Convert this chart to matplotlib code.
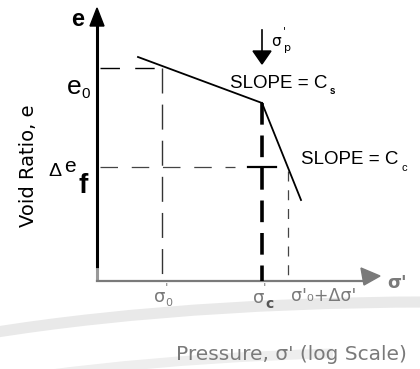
import matplotlib.pyplot as plt
from matplotlib.patches import Arc, Polygon

# e - log(sigma') consolidation sketch, drawn in sketch units (y grows downward)
origin = (97, 281)
axis_top = 8
axis_right = 380

# pressure marks: sigma'_0, sigma'_c, sigma'_0 + d sigma'
sigma_marks = [162, 262, 288]
# void ratio levels: e_0, e_f
e_levels = [68, 167]

# recompression branch (slope C_s) and virgin branch (slope C_c)
recomp_x = [138, 262]
recomp_y = [57, 103]
virgin_x = [262, 301]
virgin_y = [103, 200]

grey = '#7a7a7a'

fig = plt.figure(figsize=(4.2, 3.69), dpi=100)
ax = fig.add_axes([0, 0, 1, 1])
ax.set_xlim(0, 420)
ax.set_ylim(369, 0)
ax.axis('off')

# faint background arcs (y axis is inverted, so the upper half is 180..270)
ax.add_patch(Arc((430, 442), 1400, 280, theta1=180, theta2=270, color='#e9e9e9', lw=8, zorder=0))
ax.add_patch(Arc((430, 492), 1400, 280, theta1=180, theta2=235, color='#eeeeee', lw=7, zorder=0))

# axes
ax.plot([origin[0], origin[0]], [24, 268], color='k', lw=2.2, solid_capstyle='butt')
ax.plot([origin[0], origin[0]], [268, origin[1]], color='#999999', lw=2.2, solid_capstyle='butt')
ax.add_patch(Polygon([[origin[0], axis_top], [90, 26], [104, 26]], closed=True, color='k'))
ax.plot([origin[0], 366], [origin[1], origin[1]], color=grey, lw=1.6)
ax.add_patch(Polygon([[axis_right, 276], [361, 268], [364, 285]], closed=True, color=grey))

# e_0 guide lines
ax.plot([100, sigma_marks[0]], [e_levels[0], e_levels[0]], color='k', lw=1, dashes=(14, 11))
ax.plot([sigma_marks[0], sigma_marks[0]], [e_levels[0], origin[1]], color='#333333', lw=1, dashes=(18, 8))

# e_f guide line and cross
ax.plot([100, 235], [e_levels[1], e_levels[1]], color='#444444', lw=0.9, dashes=(14, 11))
ax.plot([248, 276], [e_levels[1], e_levels[1]], color='k', lw=1.6)

# preconsolidation and final stress verticals
ax.plot([sigma_marks[1], sigma_marks[1]], [recomp_y[1], origin[1]], color='k', lw=2.6, dashes=(6, 3))
ax.plot([sigma_marks[2], sigma_marks[2]], [e_levels[1] + 4, origin[1]], color='#444444', lw=0.9, dashes=(8, 7))

# compression curve
ax.plot(recomp_x, recomp_y, color='k', lw=1.3)
ax.plot(virgin_x, virgin_y, color='k', lw=1.3)

# sigma'_p arrow
ax.plot([sigma_marks[1], sigma_marks[1]], [30, 52], color='k', lw=1.2)
ax.add_patch(Polygon([[sigma_marks[1], 64], [253, 51], [271, 51]], closed=True, color='k'))
ax.text(271, 42, 'σ', fontsize=11, ha='left', va='center')
ax.text(283, 31, "'", fontsize=8, ha='left', va='center')
ax.text(284, 48, 'p', fontsize=8, ha='left', va='center')

# slope labels
ax.text(230, 83, 'SLOPE = C', fontsize=13.5, ha='left', va='center', family='Liberation Sans')
ax.text(330, 91, 's', fontsize=7, ha='left', va='center', family='Liberation Sans', weight='bold')
ax.text(301, 160, 'SLOPE = C', fontsize=13.5, ha='left', va='center', family='Liberation Sans')
ax.text(401, 168, 'c', fontsize=8, ha='left', va='center', family='Liberation Sans')

# void ratio labels
ax.text(78, 20, 'e', fontsize=17, weight='bold', ha='center', va='center', family='Liberation Sans')
ax.text(74, 87, 'e', fontsize=19, ha='center', va='center', family='Liberation Sans')
ax.text(86, 94, '0', fontsize=11, ha='center', va='center', family='Liberation Sans')
ax.text(55, 171, 'Δ', fontsize=14, ha='center', va='center', family='Liberation Sans')
ax.text(70, 166, 'e', fontsize=15, ha='center', va='center', family='Liberation Sans')
ax.text(83, 186, 'f', fontsize=20, weight='bold', ha='center', va='center', family='Liberation Sans')
ax.text(28, 166, 'Void Ratio, e', fontsize=14, rotation=90, ha='center', va='center')

# pressure labels
ax.text(sigma_marks[0] - 2, 297, 'σ', fontsize=13, color=grey, ha='center', va='center')
ax.text(sigma_marks[0] + 4, 288, "'", fontsize=9, color=grey, ha='center', va='center')
ax.text(sigma_marks[0] + 7, 303, '0', fontsize=8, color=grey, ha='center', va='center')
ax.text(sigma_marks[1] - 3, 298, 'σ', fontsize=13, color=grey, ha='center', va='center')
ax.text(sigma_marks[1] + 3, 289, "'", fontsize=9, color=grey, ha='center', va='center')
ax.text(sigma_marks[1] + 8, 304, 'c', fontsize=10, color='#555555', weight='bold', ha='center', va='center')
ax.text(291, 296, "σ'₀+Δσ'", fontsize=12.5, color=grey, ha='left', va='center')
ax.text(397, 283, "σ'", fontsize=13, color=grey, weight='bold', ha='center', va='center')
ax.text(291, 355, "Pressure, σ' (log Scale)", fontsize=14.5, color=grey, ha='center', va='center')

fig.savefig('out.png', dpi=100)
